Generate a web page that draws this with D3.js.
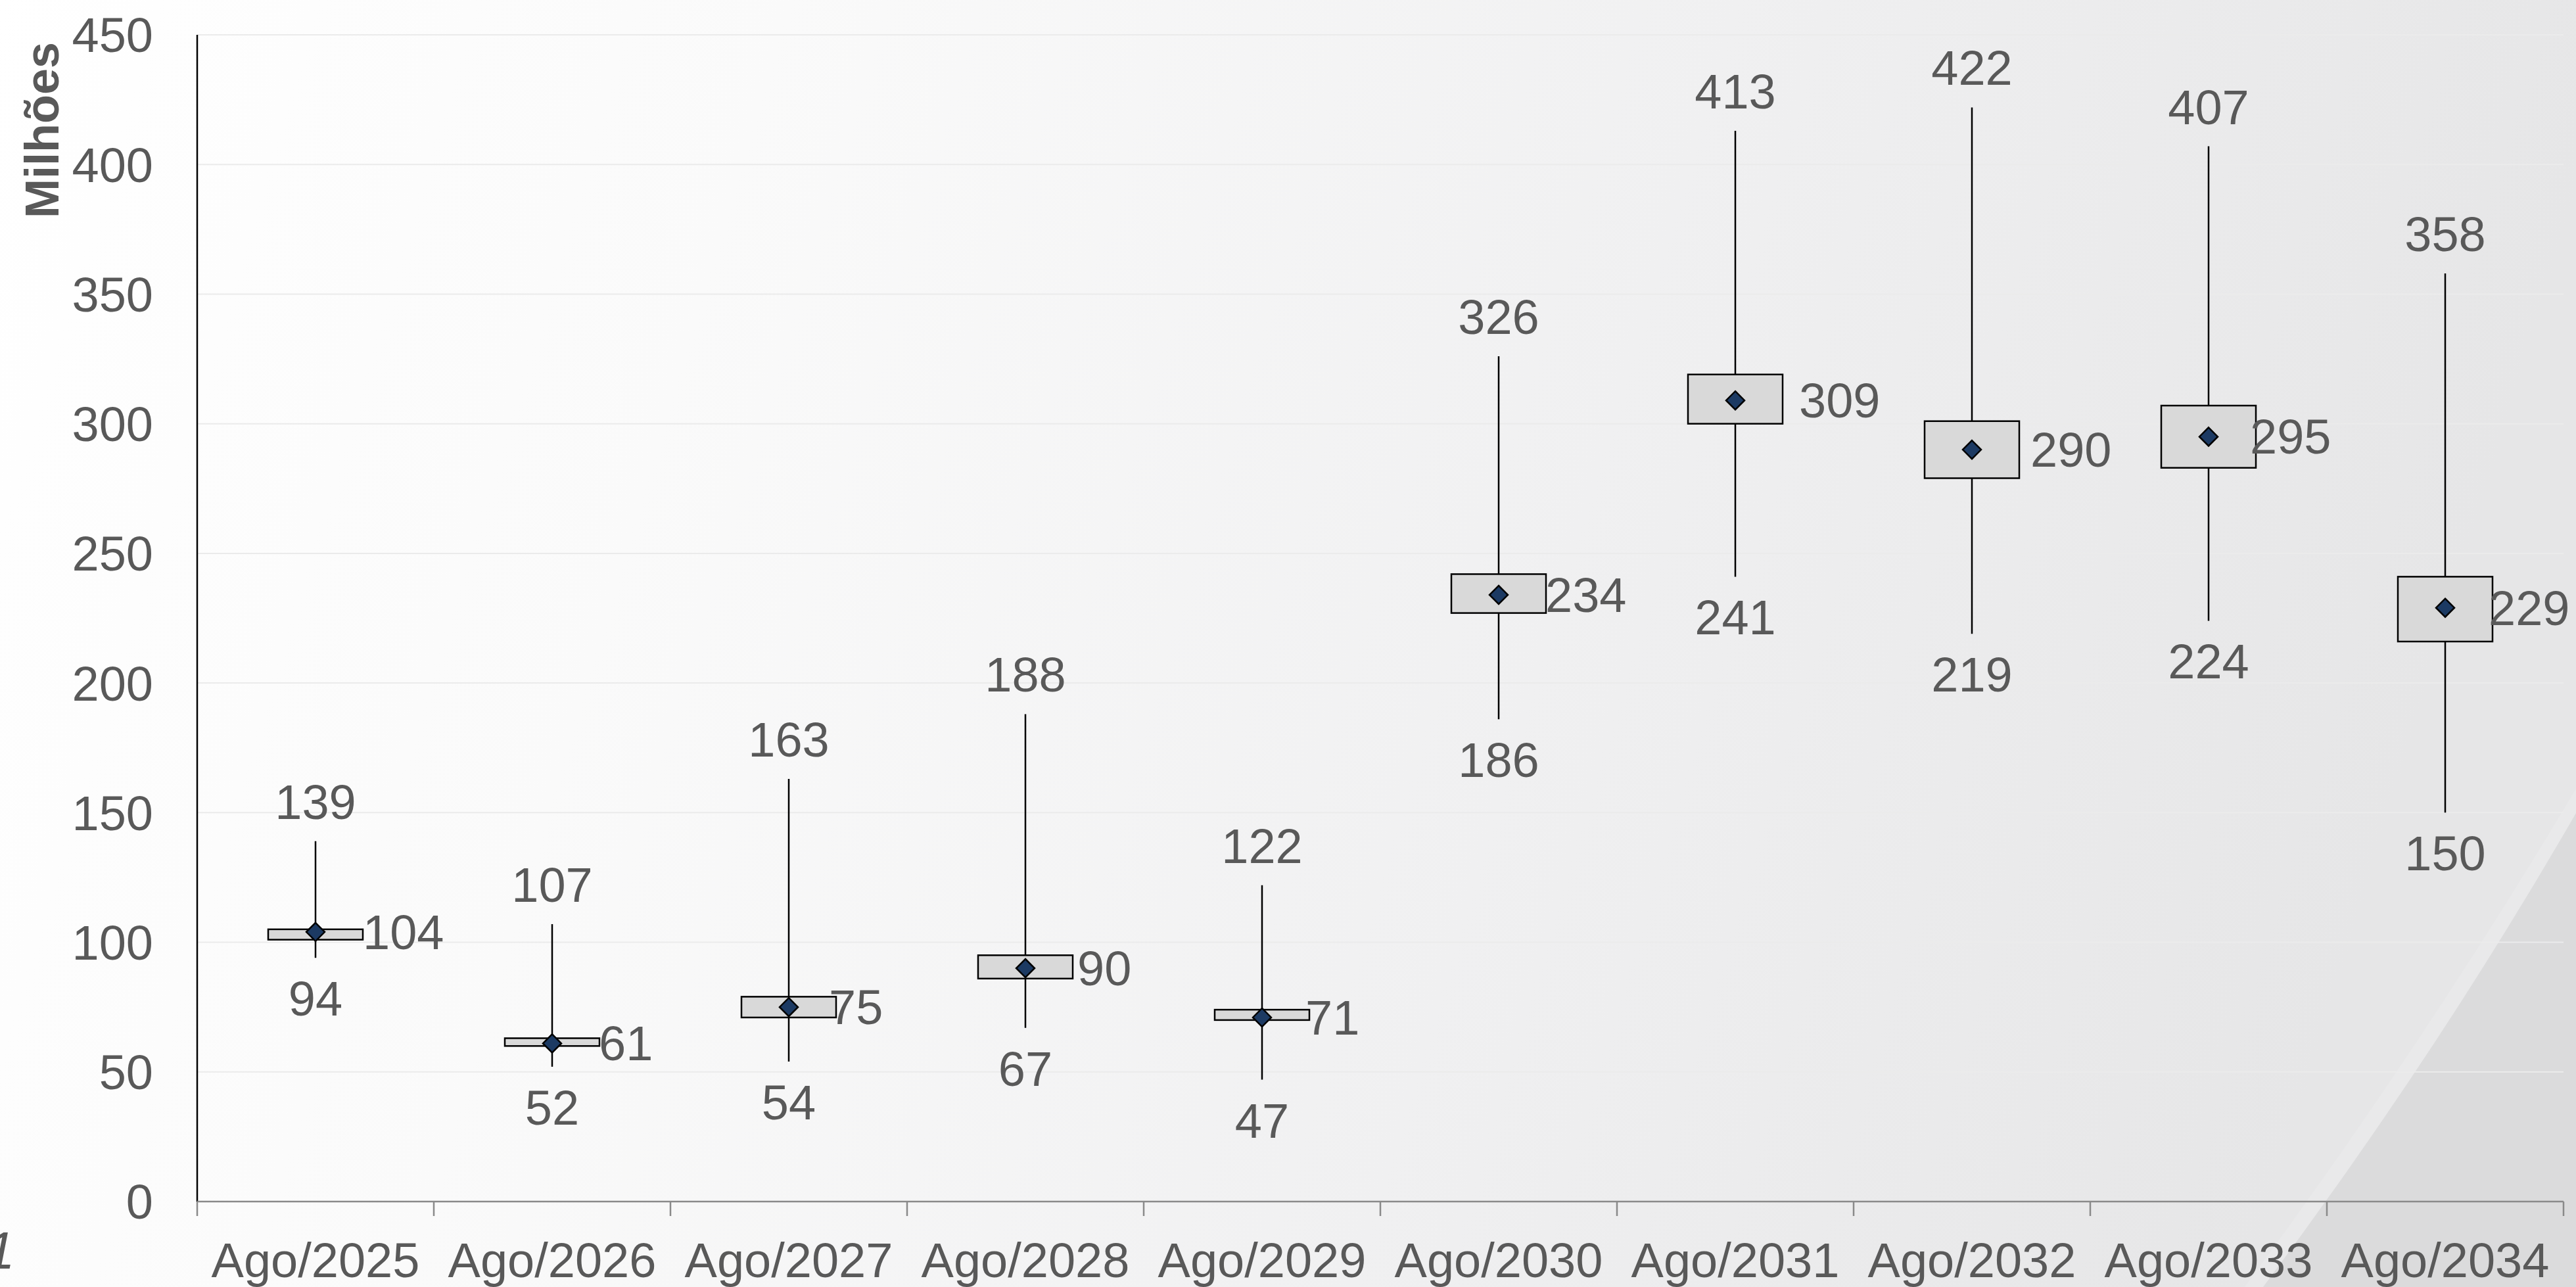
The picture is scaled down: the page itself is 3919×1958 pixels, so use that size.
<!DOCTYPE html>
<html>
<head>
<meta charset="utf-8">
<script src="https://cdn.jsdelivr.net/npm/d3@7"></script>
<style>
  html, body { margin: 0; padding: 0; background: #ffffff; }
  svg { display: block; }
  text { font-family: "Liberation Sans", Arial, sans-serif; }
</style>
</head>
<body>
<script>
// ---- Data ----
const categories = ["Ago/2025","Ago/2026","Ago/2027","Ago/2028","Ago/2029","Ago/2030","Ago/2031","Ago/2032","Ago/2033","Ago/2034"];
const maxValues  = [139, 107, 163, 188, 122, 326, 413, 422, 407, 358];
const q3Values   = [105, 63, 79, 95, 74, 242, 319, 301, 307, 241];
const meanValues = [104, 61, 75, 90, 71, 234, 309, 290, 295, 229];
const q1Values   = [101, 60, 71, 86, 70, 227, 300, 279, 283, 216];
const minValues  = [94, 52, 54, 67, 47, 186, 241, 219, 224, 150];
const yTicks     = [0, 50, 100, 150, 200, 250, 300, 350, 400, 450];
const yLabel = "Milhões";

// label layout offsets (pixels) for the mean labels, as placed in the original
const meanLabelDx = [72, 71, 61, 79, 66, 71, 97, 89, 63, 66];

(function () {
// ---- Layout ----
const W = 3919, H = 1958;
const mLeft = 300, mRight = 3900, mTop = 53, mBottom = 1828;
const textColor = "#595959";
const fontSize = 74;

const svg = d3.select("body").append("svg").attr("width", W).attr("height", H);
const defs = svg.append("defs");

const bg = defs.append("linearGradient").attr("id", "bg")
  .attr("x1", 0).attr("y1", 0).attr("x2", 1).attr("y2", 0.15);
bg.append("stop").attr("offset", "0%").attr("stop-color", "#ffffff");
bg.append("stop").attr("offset", "30%").attr("stop-color", "#fafafa");
bg.append("stop").attr("offset", "66%").attr("stop-color", "#f0f0f1");
bg.append("stop").attr("offset", "100%").attr("stop-color", "#e6e6e7");

svg.append("rect").attr("width", W).attr("height", H).attr("fill", "url(#bg)");

// decorative swoosh bottom-right
svg.append("path")
  .attr("d", "M3415,1958 Q3690,1585 3919,1200 L3919,1958 Z")
  .attr("fill", "#e9e9ea");
svg.append("path")
  .attr("d", "M3443,1958 Q3710,1600 3919,1237 L3919,1958 Z")
  .attr("fill", "#dbdbdc");

// ---- Scales ----
const x = d3.scaleBand().domain(categories).range([mLeft, mRight]).padding(0);
const y = d3.scaleLinear().domain([0, 450]).range([mBottom, mTop]);
const bw = x.bandwidth();
const boxW = bw * 0.4;
const cx = c => x(c) + bw / 2;

// gridlines
svg.append("g").selectAll("line")
  .data(yTicks.filter(d => d !== 0))
  .join("line")
  .attr("x1", mLeft).attr("x2", mRight)
  .attr("y1", d => y(d)).attr("y2", d => y(d))
  .attr("stroke", "#ebebeb").attr("stroke-width", 2);

// y axis (labels)
const yAxis = svg.append("g")
  .attr("transform", `translate(${mLeft},0)`)
  .call(d3.axisLeft(y).tickValues(yTicks).tickSize(0).tickPadding(67).tickFormat(d3.format("d")));
yAxis.select(".domain").remove();
yAxis.selectAll("text")
  .attr("fill", textColor).attr("font-size", fontSize)
  .attr("font-family", "Liberation Sans, Arial, sans-serif")
  .attr("dy", "0.35em");

// y axis line
svg.append("line")
  .attr("x1", mLeft).attr("x2", mLeft).attr("y1", y(450)).attr("y2", y(0))
  .attr("stroke", "#000000").attr("stroke-width", 2.5);

// x axis
const xAxis = svg.append("g")
  .attr("transform", `translate(0,${mBottom})`)
  .call(d3.axisBottom(x).tickSize(0).tickPadding(62));
xAxis.select(".domain").remove();
xAxis.selectAll("text")
  .attr("fill", textColor).attr("font-size", fontSize)
  .attr("font-family", "Liberation Sans, Arial, sans-serif");

svg.append("line")
  .attr("x1", mLeft).attr("x2", mRight).attr("y1", mBottom).attr("y2", mBottom)
  .attr("stroke", "#8a8a8a").attr("stroke-width", 2.5);
const boundaries = categories.map(c => x(c)).concat([x.range()[1]]);
svg.append("g").selectAll("line")
  .data(boundaries)
  .join("line")
  .attr("x1", d => d).attr("x2", d => d)
  .attr("y1", mBottom).attr("y2", mBottom + 22)
  .attr("stroke", "#8a8a8a").attr("stroke-width", 2.5);

// y label
svg.append("text")
  .attr("transform", `translate(89,198) rotate(-90)`)
  .attr("text-anchor", "middle")
  .attr("font-size", 72).attr("font-weight", "bold")
  .attr("fill", textColor)
  .text(yLabel);

// footnote fragment at bottom-left (clipped by the page edge, as in the original)
svg.append("text")
  .attr("x", -22).attr("y", 1930)
  .attr("font-size", 80).attr("font-style", "italic")
  .attr("fill", textColor)
  .text("1");

// ---- Boxes ----
const data = categories.map((c, i) => ({
  c, max: maxValues[i], q3: q3Values[i], mean: meanValues[i], q1: q1Values[i], min: minValues[i], dx: meanLabelDx[i]
}));

const g = svg.append("g");
g.selectAll("line.whisker").data(data).join("line")
  .attr("class", "whisker")
  .attr("x1", d => cx(d.c)).attr("x2", d => cx(d.c))
  .attr("y1", d => y(d.max)).attr("y2", d => y(d.min))
  .attr("stroke", "#000").attr("stroke-width", 2.5);
g.selectAll("rect.box").data(data).join("rect")
  .attr("class", "box")
  .attr("x", d => cx(d.c) - boxW / 2)
  .attr("width", boxW)
  .attr("y", d => y(d.q3))
  .attr("height", d => y(d.q1) - y(d.q3))
  .attr("fill", "#d9d9d9").attr("stroke", "#000").attr("stroke-width", 2.5);
const dr = 14;
g.selectAll("path.mean").data(data).join("path")
  .attr("class", "mean")
  .attr("d", d => {
    const px = cx(d.c), py = y(d.mean);
    return `M${px},${py - dr} L${px + dr},${py} L${px},${py + dr} L${px - dr},${py} Z`;
  })
  .attr("fill", "#1c3a63").attr("stroke", "#000").attr("stroke-width", 2.5);

// labels
const lab = svg.append("g").attr("fill", textColor).attr("font-size", fontSize);
lab.selectAll("text.max").data(data).join("text")
  .attr("class", "max")
  .attr("x", d => cx(d.c)).attr("y", d => y(d.max) - 34)
  .attr("text-anchor", "middle")
  .text(d => d.max);
lab.selectAll("text.min").data(data).join("text")
  .attr("class", "min")
  .attr("x", d => cx(d.c)).attr("y", d => y(d.min) + 88)
  .attr("text-anchor", "middle")
  .text(d => d.min);
lab.selectAll("text.mean").data(data).join("text")
  .attr("class", "mean")
  .attr("x", d => cx(d.c) + d.dx).attr("y", d => y(d.mean) + 26)
  .attr("text-anchor", "start")
  .text(d => d.mean);
})();
</script>
</body>
</html>
